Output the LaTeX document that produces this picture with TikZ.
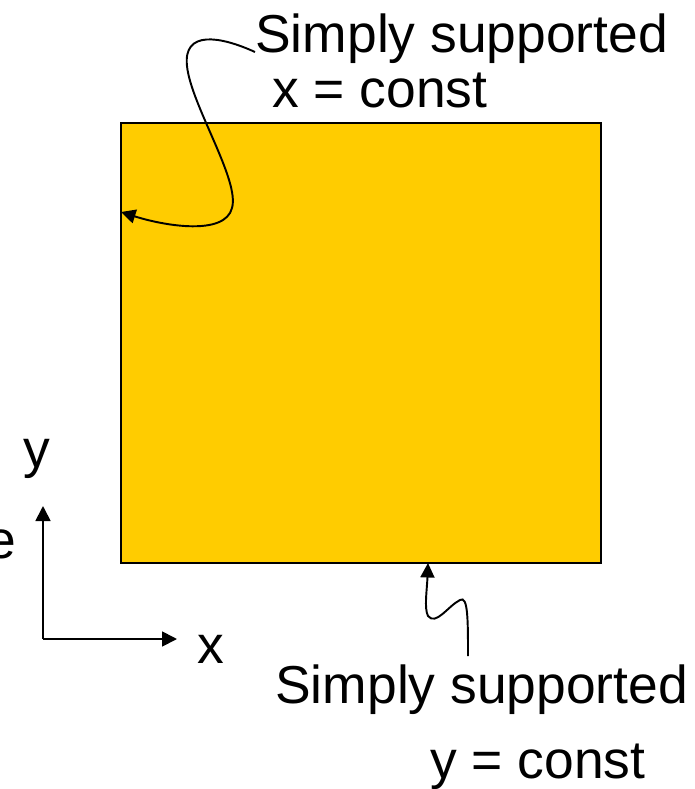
\documentclass[tikz,border=0pt]{standalone}
\usepackage{fontspec}
\setmainfont{Liberation Sans}
\usepackage{tikz}
\usetikzlibrary{
  arrows.meta,
  positioning,
  calc
}
\definecolor{plateyellow}{RGB}{255,204,0}

\begin{document}
\begin{tikzpicture}[
  x=0.02cm, y=-0.02cm,
  every node/.style={font=\fontsize{30.4}{36}\selectfont, inner sep=0pt},
  plate/.style={draw=black, line width=0.9pt, fill=plateyellow},
  callout/.style={line width=1.1pt, -{Triangle[length=0.29cm,width=0.28cm]}},
  axis/.style={line width=1pt, -{Triangle[length=0.3cm,width=0.3cm]}}
]
  \useasboundingbox (0,0) rectangle (695,789);

  \draw[plate] (121,123) rectangle (601,563);
  \coordinate (leftedge) at (121,212);
  \coordinate (bottomedge) at (428,563);

  \node[anchor=base west] (toplabel) at (255,52) {Simply supported};
  \node[anchor=base west] (topcond) at (272,107) {x = const};

  \node[anchor=base west] (botlabel) at (275,703) {Simply supported};
  \node[anchor=base west] (botcond) at (430,778) {y = const};

  \draw[callout] (toplabel.west |- 0,52)
      .. controls (220,36) and (183,30) .. (187,66)
      .. controls (191,105) and (240,180) .. (232,208)
      .. controls (225,236) and (165,226) .. (leftedge);

  \draw[callout] (468,656)
      .. controls (468,620) and (468,595) .. (460,600)
      .. controls (448,606) and (436,626) .. (428,616)
      .. controls (424,608) and (427,590) .. (bottomedge);

  \coordinate (origin) at (43,639);
  \coordinate (ytip) at (43,506);
  \coordinate (xtip) at (177,639);
  \draw[axis] (origin) -- (ytip);
  \draw[axis] (origin) -- (xtip);
  \node[anchor=base] (ylabel) at (37,467) {y};
  \node[anchor=base west] (xlabel) at (197,663) {x};
  \node[anchor=base east] (cutlabel) at (17,558) {e};
\end{tikzpicture}
\end{document}
